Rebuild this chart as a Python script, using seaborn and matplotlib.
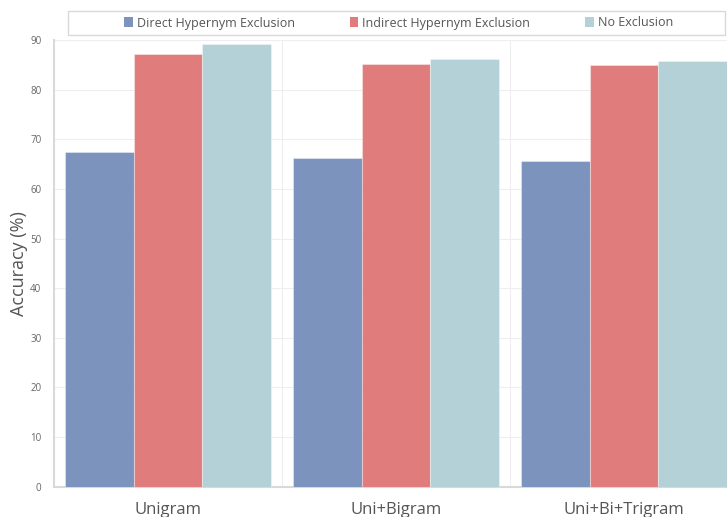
import matplotlib
matplotlib.use("Agg")
import matplotlib.pyplot as plt
from matplotlib.patches import Rectangle, Patch
import seaborn as sns
import pandas as pd

# Feature sets and accuracy (%) for each exclusion setting
features = ["Unigram", "Uni+Bigram", "Uni+Bi+Trigram"]
settings = ["Direct Hypernym Exclusion", "Indirect Hypernym Exclusion", "No Exclusion"]
direct_excl = [67.4, 66.2, 65.6]
indirect_excl = [87.2, 85.2, 84.9]
no_excl = [89.2, 86.2, 85.8]
colors = ["#7b93bd", "#e07c7c", "#b3d1d6"]
y_ticks = [0, 10, 20, 30, 40, 50, 60, 70, 80, 90]

rows = []
for name, vals in zip(settings, [direct_excl, indirect_excl, no_excl]):
    for f, v in zip(features, vals):
        rows.append({"Features": f, "Setting": name, "Accuracy": v})
df = pd.DataFrame(rows)

sns.set_theme(style="white")
plt.rcParams["font.family"] = ["Open Sans", "DejaVu Sans"]

fig = plt.figure(figsize=(7.27, 5.17), dpi=100)
ax = fig.add_axes([54 / 727, 30.3 / 517, 684 / 727, 446.7 / 517])

sns.barplot(data=df, x="Features", y="Accuracy", hue="Setting",
            order=features, hue_order=settings, palette=colors,
            width=0.9, gap=0, saturation=1, errorbar=None,
            edgecolor="none", linewidth=0, ax=ax, legend=False, zorder=3)
for p in ax.patches:
    p.set_edgecolor((1, 1, 1, 0.35))
    p.set_linewidth(0.8)

ax.set_xlim(-0.5, 2.5)
ax.set_ylim(0, 90)
ax.set_yticks(y_ticks)
ax.set_yticklabels([str(t) for t in y_ticks], fontsize=7, color="#666666")
ax.tick_params(axis="y", length=0, pad=9)
ax.tick_params(axis="x", length=0, pad=11, labelsize=12, labelcolor="#555555")
ax.set_xlabel("")
ax.set_ylabel("Accuracy (%)", fontsize=13, color="#555555")
ax.yaxis.set_label_coords((28 - 54) / 684, 0.5)

ax.grid(axis="y", color="#eeeeee", linewidth=0.8, zorder=0)
for xb in [0.5, 1.5]:
    ax.axvline(xb, color="#eeeeee", linewidth=0.8, zorder=0)

for side in ["top", "right"]:
    ax.spines[side].set_visible(False)
for side in ["left", "bottom"]:
    ax.spines[side].set_color("#d9d9d9")
    ax.spines[side].set_linewidth(1.5)

# Legend: frame drawn separately so it can be wider than the entries
fig.patches.append(Rectangle((68 / 727, 1 - 35 / 517), 657 / 727, 24 / 517,
                             transform=fig.transFigure, facecolor="white",
                             edgecolor="#d9d9d9", linewidth=1.0))
handles = [Patch(facecolor=c, edgecolor="none") for c in colors]
fig.legend(handles, settings, loc="center", bbox_to_anchor=(398.5 / 727, 1 - 23 / 517),
           ncol=3, frameon=False, fontsize=9, handlelength=0.7, handleheight=0.9,
           handletextpad=0.3, columnspacing=4.4, labelcolor="#555555")

fig.savefig("out.png", dpi=100)
